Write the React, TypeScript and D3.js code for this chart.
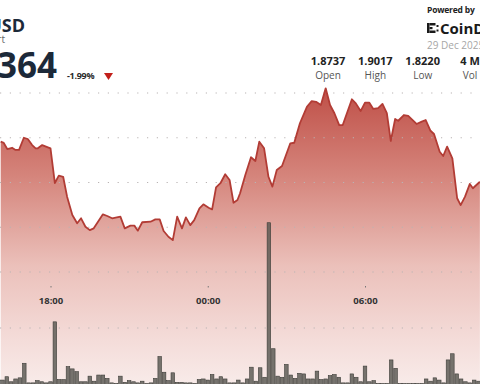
import React, { Component } from 'react';
import * as d3 from 'd3';

// minutes from 18:00 on 28 Dec, and price at that time
const priceMinutes = [
  -114, -107, -99, -88, -80, -72, -61, -52, -42, -34, -29, -19, 0, 10, 19, 29, 38, 50, 61, 70,
  80, 90, 99, 120, 130, 141, 160, 170, 183, 192, 200, 210, 229, 240, 250, 259, 270, 280, 290, 301,
  310, 320, 329, 341, 350, 362, 370, 379, 389, 400, 410, 419, 428, 434, 446, 459, 469, 478, 489, 499,
  508, 518, 530, 549, 558, 571, 587, 598, 608, 619, 630, 640, 650, 661, 669, 690, 699, 710, 720, 730,
  739, 750, 760, 770, 779, 789, 796, 809, 819, 838, 850, 859, 870, 878, 891, 899, 908, 920, 931, 939,
  949, 960, 967, 983
];
const priceValues = [
  1.8728, 1.8721, 1.8687, 1.8694, 1.8682, 1.8682, 1.8750, 1.8743, 1.8709, 1.8691, 1.8691, 1.8709, 1.8691, 1.8497, 1.8538, 1.8532, 1.8421, 1.8318, 1.8272, 1.8300,
  1.8253, 1.8234, 1.8244, 1.8322, 1.8313, 1.8300, 1.8309, 1.8244, 1.8259, 1.8259, 1.8231, 1.8278, 1.8281, 1.8294, 1.8294, 1.8229, 1.8197, 1.8178, 1.8309, 1.8244,
  1.8305, 1.8262, 1.8290, 1.8356, 1.8378, 1.8359, 1.8350, 1.8473, 1.8496, 1.8546, 1.8514, 1.8387, 1.8402, 1.8440, 1.8542, 1.8641, 1.8620, 1.8728, 1.8691, 1.8532,
  1.8477, 1.8570, 1.8592, 1.8719, 1.8722, 1.8831, 1.8923, 1.8955, 1.8951, 1.8933, 1.9026, 1.8933, 1.8887, 1.8821, 1.8821, 1.8965, 1.8942, 1.8899, 1.8946, 1.8946,
  1.8911, 1.8915, 1.8939, 1.8887, 1.8732, 1.8855, 1.8845, 1.8877, 1.8872, 1.8827, 1.8840, 1.8849, 1.8789, 1.8771, 1.8672, 1.8648, 1.8700, 1.8635, 1.8412, 1.8374,
  1.8421, 1.8492, 1.8468, 1.8504
];

// 10 minute volume bars, first bar at -110 min, in thousands
const volumeStart = -110;
const volumeValues = [
  7, 13, 4, 9, 11, 37, 2, 2, 6, 4, 2, 4, 111, 8, 8, 31, 27, 22, 4, 4,
  14, 5, 16, 16, 10, 2, 1, 14, 3, 6, 4, 2, 5, 1, 2, 10, 49, 21, 6, 20,
  3, 3, 2, 2, 1, 8, 9, 7, 17, 9, 13, 9, 2, 2, 7, 2, 9, 30, 5, 29,
  12, 288, 63, 14, 12, 35, 16, 10, 19, 18, 9, 9, 23, 8, 9, 15, 17, 12, 2, 2,
  18, 12, 4, 32, 4, 6, 1, 1, 1, 43, 28, 1, 1, 1, 1, 1, 1, 9, 5, 11,
  7, 2, 43, 54, 18, 9, 4, 2, 7, 5
];

const priceGrid = [1.8, 1.825, 1.85, 1.875, 1.9];
const volumeGrid = [100];
const tickLabels = ['18:00', '00:00', '06:00'];

const stats = [
  { value: '1.8737', label: 'Open' },
  { value: '1.9017', label: 'High' },
  { value: '1.8220', label: 'Low' },
  { value: '4 M', label: 'Vol' }
];

const FONT = "'Open Sans', 'Liberation Sans', Arial, sans-serif";

class App extends Component {
  svgRef = React.createRef<SVGSVGElement>();

  componentDidMount() {
    this.renderChart();
  }

  componentDidUpdate() {
    this.renderChart();
  }

  renderChart() {
    const width = 480, height = 384;
    const base = new Date(2025, 11, 28, 18, 0);
    const at = (m: number) => new Date(base.getTime() + m * 60000);

    const svg = d3.select(this.svgRef.current)
      .attr('width', width)
      .attr('height', height);
    svg.selectAll('*').remove();

    const x = d3.scaleTime()
      .domain([base, at(720)])
      .range([50.5, 365]);
    const y = d3.scaleLinear()
      .domain([1.8, 1.9])
      .range([272, 93]);
    const yVol = d3.scaleLinear()
      .domain([0, 100])
      .range([384, 328]);

    const data = priceMinutes.map((m, i) => ({ t: at(m), p: priceValues[i] }));

    const defs = svg.append('defs');
    const grad = defs.append('linearGradient')
      .attr('id', 'areaGrad')
      .attr('gradientUnits', 'userSpaceOnUse')
      .attr('x1', 0).attr('x2', 0)
      .attr('y1', 88).attr('y2', 384);
    [[0, '#bf4f47'], [0.3, '#d5857c'], [0.6, '#ebc0ba'], [0.85, '#f4dcd9'], [1, '#f8ebe9']]
      .forEach(([o, c]) => grad.append('stop').attr('offset', o as number).attr('stop-color', c as string));

    svg.append('path')
      .datum(data)
      .attr('d', d3.area<any>().x(d => x(d.t)).y0(height).y1(d => y(d.p)))
      .attr('fill', 'url(#areaGrad)');

    // grid
    svg.selectAll('.grid').data(priceGrid).join('line')
      .attr('class', 'grid')
      .attr('x1', 0).attr('x2', width)
      .attr('y1', d => y(d)).attr('y2', d => y(d))
      .attr('stroke', '#b9b3b3')
      .attr('stroke-width', 1.2)
      .attr('stroke-dasharray', '1.2,8.6');
    svg.selectAll('.vgrid').data(volumeGrid).join('line')
      .attr('class', 'vgrid')
      .attr('x1', 0).attr('x2', width)
      .attr('y1', d => yVol(d)).attr('y2', d => yVol(d))
      .attr('stroke', '#b9b3b3')
      .attr('stroke-width', 1.2)
      .attr('stroke-dasharray', '1.2,8.6');

    // volume bars
    const bw = x(at(10)) - x(at(0)) - 0.8;
    svg.selectAll('.vol').data(volumeValues).join('rect')
      .attr('class', 'vol')
      .attr('x', (d, i) => x(at(volumeStart + i * 10)) - bw / 2)
      .attr('y', d => yVol(d))
      .attr('width', bw)
      .attr('height', d => height - yVol(d) + 2)
      .attr('fill', '#55554f')
      .attr('fill-opacity', 0.8)
      .attr('stroke', '#3c3c38')
      .attr('stroke-width', 0.6);

    svg.append('path')
      .datum(data)
      .attr('d', d3.line<any>().x(d => x(d.t)).y(d => y(d.p)))
      .attr('fill', 'none')
      .attr('stroke', '#b23c35')
      .attr('stroke-width', 1.8)
      .attr('stroke-linejoin', 'round');

    // time axis
    const parse = d3.timeParse('%H:%M');
    const tickDates = tickLabels.map(s => {
      const p = parse(s) as Date;
      const d = new Date(base);
      d.setHours(p.getHours(), p.getMinutes());
      if (d < base) d.setDate(d.getDate() + 1);
      return d;
    });
    const axis = svg.append('g')
      .attr('transform', 'translate(0, 286)')
      .call(d3.axisBottom(x).tickValues(tickDates).tickFormat((d, i) => tickLabels[i]).tickSize(1.5).tickPadding(10));
    axis.select('.domain').remove();
    axis.selectAll('.tick line').attr('stroke', '#777');
    axis.selectAll('.tick text')
      .attr('fill', '#333')
      .style('font-family', FONT)
      .style('font-size', '9.5px')
      .style('font-weight', 'bold');

    // header
    const header = svg.append('g').style('font-family', FONT);
    header.append('text')
      .attr('x', 25).attr('y', 32)
      .attr('text-anchor', 'end')
      .attr('fill', '#1c2939')
      .style('font-size', '18px').style('font-weight', 'bold')
      .text('XRP-USD');
    header.append('text')
      .attr('x', 5).attr('y', 43)
      .attr('text-anchor', 'end')
      .attr('fill', '#666')
      .style('font-size', '10px')
      .text('Chart');
    header.append('text')
      .attr('x', 57).attr('y', 78)
      .attr('text-anchor', 'end')
      .attr('fill', '#1c2939')
      .style('font-size', '35px').style('font-weight', 'bold')
      .text('1.8364');
    header.append('text')
      .attr('x', 67).attr('y', 79)
      .attr('fill', '#2a2a2a')
      .style('font-size', '9px').style('font-weight', 'bold')
      .style('letter-spacing', '-0.3px')
      .text('-1.99%');
    header.append('path')
      .attr('d', 'M104,73 L113,73 L108.5,80 Z')
      .attr('fill', '#c2201b');

    header.append('text')
      .attr('x', 427).attr('y', 13)
      .attr('fill', '#222')
      .style('font-size', '8.5px').style('font-weight', 'bold')
      .style('letter-spacing', '-0.2px')
      .text('Powered by');
    // logo mark
    const logo = header.append('g').attr('fill', '#1a1a1a');
    [[427, 23, 2.5, 10], [429.5, 23, 6, 2.5], [429.5, 30.5, 6, 2.5], [429.5, 27, 3, 2.2], [436.5, 25, 2, 2], [436.5, 29.5, 2, 2]]
      .forEach(([rx, ry, rw, rh]) => logo.append('rect').attr('x', rx).attr('y', ry).attr('width', rw).attr('height', rh));
    header.append('text')
      .attr('x', 440).attr('y', 33.5)
      .attr('fill', '#1a1a1a')
      .style('font-size', '15px').style('font-weight', 'bold')
      .text('CoinDesk');
    header.append('text')
      .attr('x', 427).attr('y', 49)
      .attr('fill', '#a6a6a6')
      .style('font-size', '10px')
      .text('29 Dec 2025');

    const statX = d3.scalePoint().domain(stats.map(s => s.label)).range([328, 470]);
    header.selectAll('.sv').data(stats).join('text')
      .attr('class', 'sv')
      .attr('x', d => statX(d.label) as number).attr('y', 65)
      .attr('text-anchor', 'middle')
      .attr('fill', '#222')
      .style('font-size', '11px').style('font-weight', 'bold')
      .text(d => d.value);
    header.selectAll('.sl').data(stats).join('text')
      .attr('class', 'sl')
      .attr('x', d => statX(d.label) as number).attr('y', 79)
      .attr('text-anchor', 'middle')
      .attr('fill', '#555')
      .style('font-size', '10px')
      .text(d => d.label);
  }

  render() {
    return (
      <svg ref={this.svgRef} style={{ position: 'absolute', left: 0, top: 0, background: '#fff' }}></svg>
    );
  }
}

export default App;
